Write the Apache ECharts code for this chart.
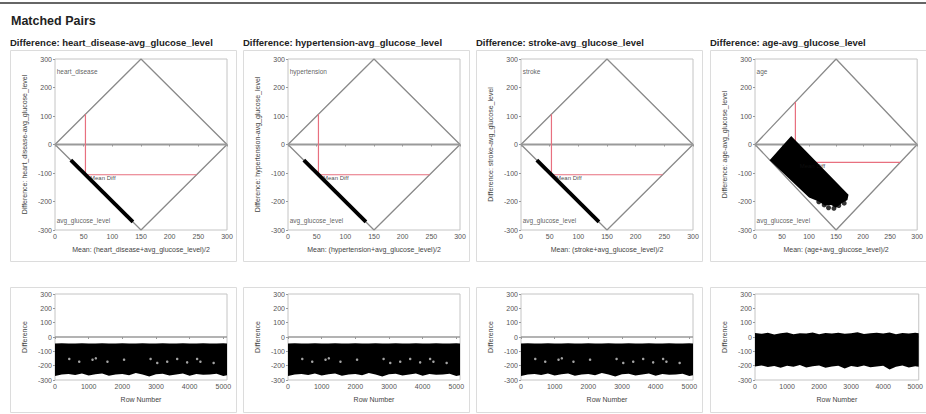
<!DOCTYPE html>
<html>
<head>
<meta charset="utf-8">
<script src="https://cdn.jsdelivr.net/npm/echarts@6/dist/echarts.min.js"></script>
<style>
  html, body { margin: 0; background: #fff; }
  #chart { width: 926px; height: 414px; }
</style>
</head>
<body>
<div id="chart"></div>
<script>
// --- data ---
const pairNames = ["heart_disease", "hypertension", "stroke", "age"];
const baseName = "avg_glucose_level";
const meanOfMeans = [53.1, 53.1, 53.1, 74.7];
const meanDiffs = [-106.1, -106.1, -106.1, -62.9];

const meanTicks = [0, 300, 50];
const diffTicks = [-300, 300, 100];
const rowTicks = [0, 5110, 1000];

// limits of agreement diamond
const diamond = [[0, 0], [150, 300], [300, 0], [150, -300], [0, 0]];
// binary minus glucose: points sit on one narrow diagonal
const binaryBand = [[27.6, -55.1], [135.9, -271.7]];
// age minus glucose: outline of the dense cloud
const ageCloud = [
  [27, -55], [67, 30], [173, -176], [171, -195], [161, -205], [150, -222],
  [141, -212], [129, -214], [118, -200], [100, -186], [27, -55]
];
const ageStray = [[118, -201], [128, -212], [136, -222], [146, -224], [155, -214], [165, -206]];

// difference by row number
const rowPos = [0, 200, 400, 600, 800, 1000, 1200, 1400, 1600, 1800, 2000, 2200, 2400, 2600,
  2800, 3000, 3200, 3400, 3600, 3800, 4000, 4200, 4400, 4600, 4800, 5000, 5110];
const binaryRowTop = [-45, -44, -46, -45, -44, -45, -46, -44, -45, -45, -44, -46, -45, -44,
  -45, -46, -44, -45, -45, -44, -46, -45, -44, -45, -46, -44, -45];
const binaryRowLow = [-272, -262, -258, -265, -255, -268, -260, -254, -270, -262, -258, -266, -252, -262,
  -275, -260, -256, -268, -262, -255, -270, -258, -264, -262, -256, -272, -266];
const binaryRowHoles = [[424, -153], [720, -172], [1115, -158], [1213, -149], [1558, -172], [2052, -158],
  [2840, -153], [3038, -181], [3334, -172], [3630, -153], [3926, -177], [4222, -153], [4320, -172], [4713, -181]];
const ageRowTop = [28, 22, 30, 18, 26, 32, 20, 27, 24, 31, 19, 28, 25, 30, 22, 27, 33, 21, 26, 29,
  24, 31, 20, 28, 25, 30, 26];
const ageRowLow = [-205, -198, -210, -202, -215, -200, -208, -196, -212, -204, -199, -214, -206, -200,
  -220, -203, -209, -198, -211, -205, -200, -226, -207, -199, -213, -204, -208];

// --- layout ---
const panelLeft = [55, 288, 521, 755];
const font = "Liberation Sans, Arial, sans-serif";
const tickText = { fontSize: 7, color: "#555", fontFamily: font };
const nameText = { fontSize: 7, color: "#444", fontFamily: font };

const grids = [];
const xAxes = [];
const yAxes = [];
const series = [];
const titles = [{
  text: "Matched Pairs", left: 11, top: 14, padding: 0,
  textStyle: { fontSize: 12.5, fontWeight: "bold", color: "#222", fontFamily: font }
}];
const boxes = [];

function valueAxis(index, range, name, gap, rotate, showMax) {
  return {
    gridIndex: index, type: "value", min: range[0], max: range[1], interval: range[2],
    name, nameLocation: "middle", nameGap: gap, nameRotate: rotate, nameTextStyle: nameText,
    axisLabel: { ...tickText, margin: 3, showMaxLabel: showMax, formatter: (v) => String(v) },
    axisLine: { show: false, lineStyle: { color: "#999" } },
    axisTick: { show: true, length: 2, lineStyle: { color: "#999" } },
    splitLine: { show: false }
  };
}

function polygonSeries(index, pts, fill) {
  return {
    type: "custom", xAxisIndex: index, yAxisIndex: index, silent: true, clip: true, z: 5,
    data: [0],
    renderItem: (params, api) => ({
      type: "polygon",
      shape: { points: pts.map((p) => api.coord(p)) },
      style: { fill }
    })
  };
}

function textMark(index, x, y, text, size, color) {
  return {
    type: "scatter", xAxisIndex: index, yAxisIndex: index, silent: true, symbolSize: 0, z: 6,
    data: [[x, y]],
    label: {
      show: true, position: "right", distance: 0, formatter: text,
      fontSize: size, color, fontFamily: font
    }
  };
}

pairNames.forEach((name, i) => {
  const t = i;          // top grid: mean-difference plot
  const b = i + 4;      // bottom grid: difference by row
  const left = panelLeft[i];

  titles.push({
    text: `Difference: ${name}-${baseName}`, left: left - 45, top: 37, padding: 0,
    textStyle: { fontSize: 9.5, fontWeight: "bold", color: "#222", fontFamily: font }
  });
  boxes.push({ x: left - 45, y: 50, w: 226, h: 211 });
  boxes.push({ x: left - 45, y: 287, w: 226, h: 125 });

  grids[t] = { left, top: 59, width: 172, height: 171, show: true, borderColor: "#c4c4c4", borderWidth: 1 };
  grids[b] = { left, top: 294, width: 172, height: 86, show: true, borderColor: "#c4c4c4", borderWidth: 1 };

  xAxes[t] = valueAxis(t, meanTicks, `Mean: (${name}+${baseName})/2`, 16, 0, true);
  yAxes[t] = valueAxis(t, diffTicks, `Difference: ${name}-${baseName}`, 27, 90, true);
  xAxes[b] = valueAxis(b, rowTicks, "Row Number", 16, 0, false);
  yAxes[b] = valueAxis(b, diffTicks, "Difference", 27, 90, true);

  const m = meanOfMeans[i];
  const d = meanDiffs[i];
  const line = (data, color, width, z) => ({
    type: "line", xAxisIndex: t, yAxisIndex: t, data, silent: true, symbol: "none", z,
    lineStyle: { color, width }
  });

  series.push(line(diamond, "#8a8a8a", 1.3, 2));
  series.push(line([[0, 0], [300, 0]], "#9a9a9a", 2, 2));
  series.push(line([[m, 2 * m], [m, d], [300 + d / 2, d]], "#e8707f", 1.2, 3));

  if (name === "age") {
    series.push(polygonSeries(t, ageCloud, "#000"));
    series.push({
      type: "scatter", xAxisIndex: t, yAxisIndex: t, data: ageStray, silent: true, z: 5,
      symbolSize: 5, itemStyle: { color: "#000" }
    });
  } else {
    series.push({
      type: "line", xAxisIndex: t, yAxisIndex: t, data: binaryBand, silent: true, symbol: "none",
      lineStyle: { color: "#000", width: 3.8, cap: "butt" }, z: 5
    });
  }

  series.push(textMark(t, 3, 255, name, 6.5, "#333"));
  series.push(textMark(t, 3, -268, baseName, 6.5, "#333"));
  series.push(textMark(t, m + 8, d - 12, "Mean Diff", 6, "#111"));

  // bottom: difference by row number
  series.push({
    type: "line", xAxisIndex: b, yAxisIndex: b, data: [[0, 0], [5110, 0]], silent: true,
    symbol: "none", lineStyle: { color: "#9a9a9a", width: 1.5 }
  });
  const top = name === "age" ? ageRowTop : binaryRowTop;
  const low = name === "age" ? ageRowLow : binaryRowLow;
  const outline = rowPos.map((r, k) => [r, top[k]])
    .concat(rowPos.map((r, k) => [r, low[k]]).reverse());
  series.push(polygonSeries(b, outline, "#000"));
  if (name !== "age") {
    series.push({
      type: "scatter", xAxisIndex: b, yAxisIndex: b, data: binaryRowHoles, silent: true,
      symbolSize: 2.5, itemStyle: { color: "#ccc" }, z: 6
    });
  }
});

const graphic = [{
  type: "line", shape: { x1: 0, y1: 3, x2: 926, y2: 3 },
  style: { stroke: "#333", lineWidth: 1.5 }, silent: true
}].concat(boxes.map((r) => ({
  type: "rect", shape: { x: r.x + 0.5, y: r.y + 0.5, width: r.w, height: r.h },
  style: { fill: "none", stroke: "#dcdcdc", lineWidth: 1 }, silent: true, z: -1
})));

const chart = echarts.init(document.getElementById("chart"), null, { renderer: "svg" });
chart.setOption({
  animation: false,
  backgroundColor: "#fff",
  textStyle: { fontFamily: font, color: "#555" },
  title: titles,
  graphic,
  grid: grids,
  xAxis: xAxes,
  yAxis: yAxes,
  series
});
</script>
</body>
</html>
